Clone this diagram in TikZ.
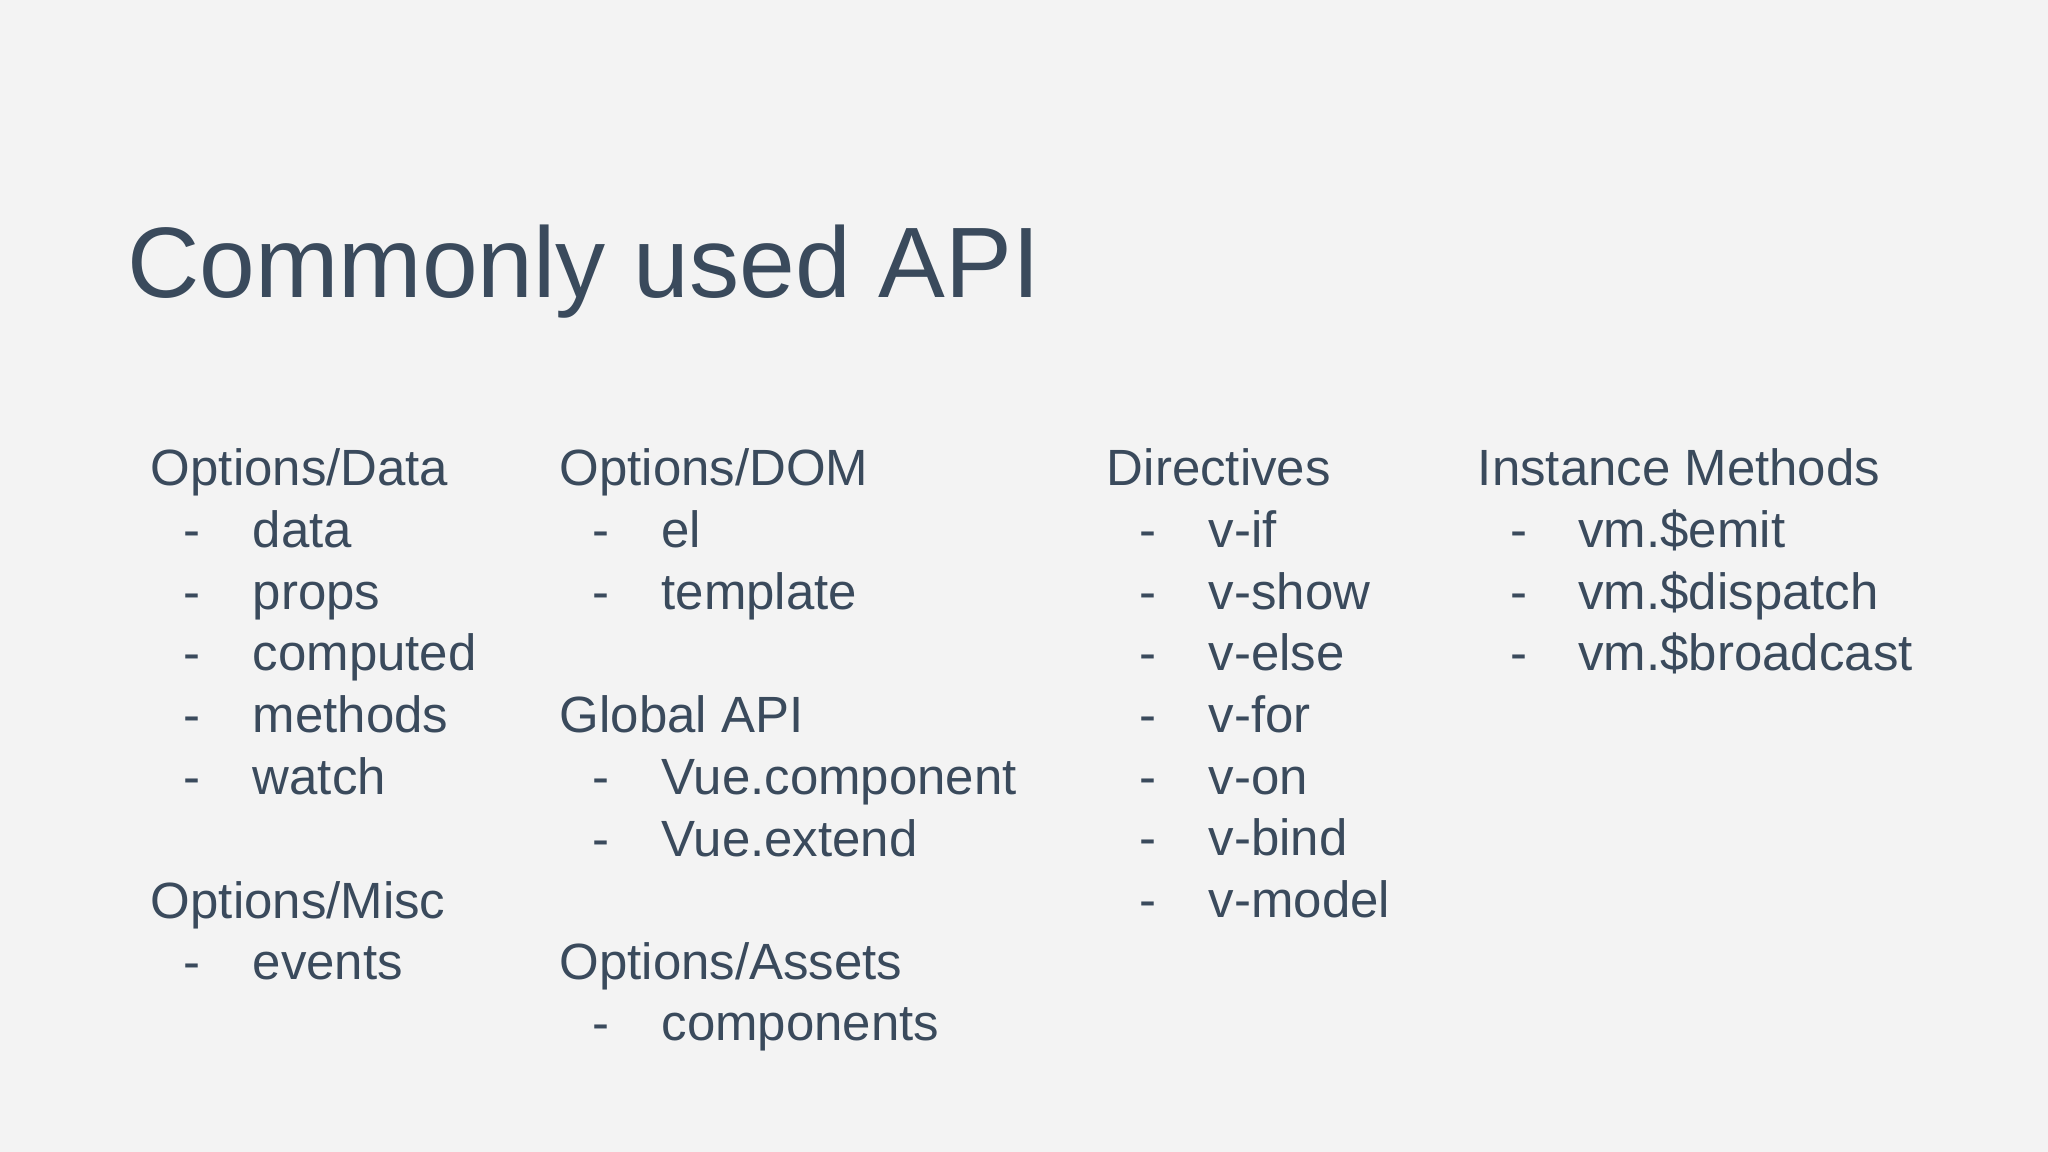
\documentclass[tikz,border=0pt]{standalone}
\usepackage{fontspec}
\setmainfont{Liberation Sans}
\definecolor{bg}{HTML}{F3F3F3}
\definecolor{ink}{HTML}{3A4A5C}
\begin{document}
\begin{tikzpicture}[x=0.01306cm,y=-0.01306cm,
  txt/.style={anchor=base west,inner sep=0,text=ink,font=\fontsize{14.5}{17}\selectfont},
  ttl/.style={anchor=base west,inner sep=0,text=ink,font=\fontsize{28.5}{34}\selectfont}]
\fill[bg] (0,0) rectangle (1568,882);
\useasboundingbox (0,0) rectangle (1568,882);
\node[ttl] (title) at (97,228) {Commonly used API};
% column 1
\node[txt] (h1) at (115,372) {Options/Data};
\foreach \t [count=\i] in {data,props,computed,methods,watch}{
  \node[txt] (d1\i) at (140,{372+47.2*\i}) {-};
  \node[txt] (a1\i) at (193,{372+47.2*\i}) {\t};}
\node[txt] (h1b) at (115,703) {Options/Misc};
\node[txt] (d1b) at (140,750) {-};
\node[txt] (b1) at (193,750) {events};
% column 2
\node[txt] (h2) at (428,372) {Options/DOM};
\foreach \t [count=\i] in {el,template}{
  \node[txt] (d2\i) at (453,{372+47.2*\i}) {-};
  \node[txt] (a2\i) at (506,{372+47.2*\i}) {\t};}
\node[txt] (h2b) at (428,561) {Global API};
\foreach \t [count=\i] in {Vue.component,Vue.extend}{
  \node[txt] (e2\i) at (453,{561+47.2*\i}) {-};
  \node[txt] (g2\i) at (506,{561+47.2*\i}) {\t};}
\node[txt] (h2c) at (428,750) {Options/Assets};
\node[txt] (d2c) at (453,797) {-};
\node[txt] (c2) at (506,797) {components};
% column 3
\node[txt] (h3) at (847,372) {Directives};
\foreach \t [count=\i] in {v-if,v-show,v-else,v-for,v-on,v-bind,v-model}{
  \node[txt] (d3\i) at (872,{372+47.2*\i}) {-};
  \node[txt] (a3\i) at (925,{372+47.2*\i}) {\t};}
% column 4
\node[txt] (h4) at (1131,372) {Instance Methods};
\foreach \t [count=\i] in {vm.\$emit,vm.\$dispatch,vm.\$broadcast}{
  \node[txt] (d4\i) at (1156,{372+47.2*\i}) {-};
  \node[txt] (a4\i) at (1208,{372+47.2*\i}) {\t};}
\end{tikzpicture}
\end{document}
